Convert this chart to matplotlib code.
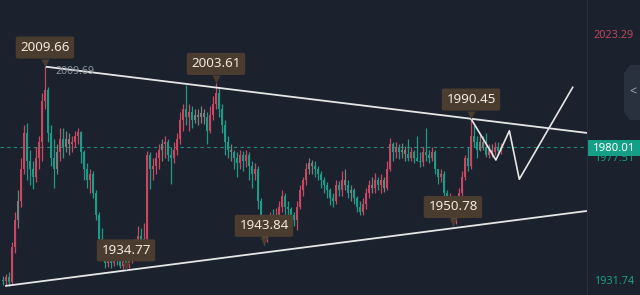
import matplotlib
matplotlib.use("Agg")
import matplotlib.pyplot as plt
from matplotlib.transforms import offset_copy
from matplotlib.patches import Rectangle, Polygon

plt.rcParams['font.family'] = ['Noto Sans', 'DejaVu Sans']

# ---------------- data ----------------
first_open = 1931.0
closes = [1930.5, 1932, 1930, 1943, 1953, 1960, 1972, 1985, 1975, 1972,
          1969, 1976, 1982, 1997, 2001, 1985, 1976, 1972, 1978, 1983,
          1980, 1983, 1981, 1982, 1984, 1985.5, 1978, 1972, 1968, 1970,
          1963, 1955, 1946, 1944, 1937, 1939, 1937, 1939.5, 1938, 1936,
          1938, 1936, 1939, 1941, 1943, 1947, 1944, 1946, 1977, 1972,
          1973, 1976, 1979, 1981, 1982, 1977, 1976, 1979, 1983, 1990,
          1994, 1991, 1993, 1990, 1992, 1991, 1992.5, 1991, 1986, 1992,
          1996, 2000, 1994, 1988, 1982, 1979, 1978, 1976, 1974, 1977,
          1975, 1977, 1973, 1970, 1972, 1960, 1952, 1946, 1950, 1953,
          1951, 1955, 1958, 1962, 1958, 1957, 1955, 1953, 1958, 1964,
          1968, 1972, 1974, 1973, 1972, 1970, 1968, 1966, 1964, 1961,
          1960, 1966, 1964, 1968, 1966, 1963, 1964, 1961, 1958, 1956,
          1959, 1963, 1966, 1965, 1968, 1966, 1968, 1965, 1972, 1981,
          1978, 1980, 1978, 1979, 1977.5, 1976, 1978, 1976, 1975, 1974.5,
          1978, 1977, 1976, 1978, 1972, 1969, 1970, 1963, 1960, 1961,
          1953, 1956, 1963, 1969, 1976, 1973, 1984, 1982, 1979, 1982,
          1980, 1977, 1979, 1978, 1980, 1978.5, 1980.01]
highs = [1932.5, 1933, 1934, 1945, 1956, 1964, 1976, 1988, 1989, 1979,
         1975, 1980, 1984, 2000, 2009.66, 2002, 1988, 1983, 1981, 1987,
         1987, 1986, 1985, 1984, 1986, 1987, 1986, 1979, 1974, 1972,
         1971, 1964, 1956, 1950, 1945, 1941, 1940, 1941, 1941.5, 1939,
         1939.5, 1939, 1940, 1943, 1946, 1951, 1950, 1952, 1978.5, 1978,
         1976, 1978, 1981, 1983, 1984, 1983, 1980, 1982, 1985, 1993,
         1996, 2002.8, 1996, 1995, 1994, 1994, 1995, 1994, 1993, 1995,
         1999, 2003.61, 2002, 1996, 1990, 1984, 1981, 1979, 1978, 1979,
         1978.5, 1979, 1978, 1975, 1974, 1973, 1961, 1954, 1952, 1956,
         1957, 1957.5, 1960, 1964, 1963, 1960, 1958, 1956, 1960, 1966,
         1969, 1974, 1976, 1975.2, 1975, 1973, 1971, 1969, 1967, 1965,
         1963, 1968, 1967.5, 1971, 1972, 1968, 1966, 1965, 1962, 1960,
         1961, 1965, 1968, 1969, 1970.5, 1969, 1970, 1969, 1975, 1983.5,
         1982, 1982, 1981, 1981.5, 1980.5, 1983, 1980, 1979, 1984, 1978,
         1980, 1987, 1979, 1980, 1979, 1972, 1972, 1971, 1964, 1963,
         1961.5, 1958, 1965, 1971, 1977, 1980, 1990.45, 1988, 1984, 1985,
         1984, 1985, 1981, 1981, 1982, 1982, 1981.5]
lows = [1929, 1929.2, 1928.8, 1929.5, 1941, 1950, 1958, 1970, 1968, 1966,
        1964.5, 1967, 1972, 1975, 1994, 1982, 1973, 1965, 1970, 1975,
        1976, 1978, 1977, 1978, 1980, 1981, 1974, 1968, 1965, 1963,
        1961, 1953, 1944.5, 1940, 1935.5, 1935.8, 1935.5, 1936, 1936.5, 1935.2,
        1935, 1934.77, 1935.5, 1937, 1940, 1942, 1943, 1942, 1945, 1964.5,
        1968, 1970, 1972, 1975, 1976, 1975, 1966.5, 1974, 1977, 1981,
        1986, 1988, 1986, 1987, 1989, 1988, 1989, 1988.5, 1981, 1985,
        1990, 1994, 1991, 1985, 1977, 1976, 1975, 1972, 1969, 1972,
        1971, 1972.5, 1968, 1965, 1968, 1957, 1949, 1943.84, 1945, 1948,
        1949, 1950, 1953, 1956, 1955, 1954.5, 1953, 1951, 1949.5, 1957,
        1962, 1966, 1970, 1970, 1969, 1968, 1965, 1963, 1961, 1958.5,
        1958, 1959, 1962, 1962, 1964, 1961, 1960, 1959, 1956, 1955,
        1954.8, 1957, 1961, 1963, 1963, 1964, 1963, 1963.5, 1964, 1971,
        1975, 1976, 1975.5, 1976, 1975, 1975, 1975, 1974, 1974.8, 1972.7,
        1973, 1975, 1974, 1975, 1970, 1966.5, 1967, 1962, 1958, 1956,
        1950.78, 1951.5, 1955, 1962, 1968, 1971, 1972, 1980, 1976, 1978.5,
        1979, 1976.5, 1976, 1976.5, 1977, 1977, 1977.5]
gray_idx = [5, 18, 21, 22, 53, 64, 65, 66, 67, 76, 102, 103, 114, 116,
            123, 127, 133, 134, 159, 160, 163]

# marked highs / lows (candle index, price, label)
marks = [(14, 2009.66, "2009.66"), (71, 2003.61, "2003.61"),
         (156, 1990.45, "1990.45"), (41, 1934.77, "1934.77"),
         (87, 1943.84, "1943.84"), (150, 1950.78, "1950.78")]

# drawn lines
upper_x, upper_y = [14, 194.7], [2009.69, 1985.2]
lower_x, lower_y = [0.7, 194.7], [1928.7, 1956.4]
zig_x = [156, 164.3, 168.8, 172.1, 189.9]
zig_y = [1990.45, 1975.2, 1986.0, 1968.1, 2002.05]
last_price = 1980.01
scale_top, scale_bottom, prev_close = "2023.29", "1931.74", "1977.51"

# ---------------- style ----------------
BG = '#1b212d'
UP, DOWN, FLAT = '#c9475f', '#1d9c85', '#7c7c7c'
BOXC, BOXT = '#4b3c30', '#f1e9df'
W, H = 640, 295
AX_RIGHT = 587

fig = plt.figure(figsize=(W / 100, H / 100), dpi=100, facecolor=BG)
ax = fig.add_axes([0, 0, AX_RIGHT / W, 1])
ax.set_facecolor(BG)
ax.set_axis_off()
ax.set_xlim(-1, 194.67)
ax.set_ylim(1925.36, 2034.29)

n = min(len(closes), len(highs), len(lows))
opens = [first_open] + closes[:n - 1]
for i in range(n):
    o, c = opens[i], closes[i]
    h, l = max(highs[i], o, c), min(lows[i], o, c)
    if i in gray_idx:
        col = FLAT
    elif c >= o:
        col = UP
    else:
        col = DOWN
    ax.vlines(i, l, h, colors=col, lw=0.9, zorder=2)
    bot = min(o, c)
    hgt = max(abs(c - o), 0.3)
    ax.bar(i, hgt, bottom=bot, width=0.65, color=col, lw=0, zorder=2)

# price dashed line
ax.axhline(last_price, color='#1f8c78', lw=0.8, ls=(0, (3, 3)), zorder=1)

# trend lines + projection
ax.plot(upper_x, upper_y, color='#e6e6e6', lw=1.3, zorder=3, solid_capstyle='butt')
ax.plot(lower_x, lower_y, color='#e6e6e6', lw=1.3, zorder=3, solid_capstyle='butt')
ax.plot(zig_x, zig_y, color='#e6e6e6', lw=1.2, zorder=3)

ax.annotate(f"{upper_y[0]:.2f}", (upper_x[0], upper_y[0]), xytext=(7.5, -3.6),
            textcoords='offset points', ha='left', va='center',
            fontsize=7.6, color='#8e949e', zorder=4)

# labels
for xi, p, txt in marks:
    tri = offset_copy(ax.transData, fig=fig, x=0, y=4.0, units='dots')
    ax.plot([xi], [p], marker='v', ms=5.8, color=BOXC, mec='none',
            transform=tri, zorder=5, clip_on=False)
    ax.annotate(txt, (xi, p), xytext=(0, 13.8), textcoords='offset points',
                ha='center', va='center', fontsize=9.6, color=BOXT, zorder=6,
                bbox=dict(boxstyle='round,pad=0.34,rounding_size=0.15',
                          fc=BOXC, ec='none'))

# ---------------- right price panel ----------------
def fx(px):
    return px / W

def fy(py):
    return 1 - py / H

fig.add_artist(plt.Line2D([fx(AX_RIGHT), fx(AX_RIGHT)], [0, 1],
                          color='#283040', lw=0.8))
fig.text(fx(614), fy(35), scale_top, color='#c0455c', fontsize=7.8,
         ha='center', va='center')
fig.text(fx(614), fy(282), scale_bottom, color='#1c9c86', fontsize=7.8,
         ha='center', va='center')
fig.text(fx(614), fy(158.5), prev_close, color='#1c9c86', fontsize=7.8,
         ha='center', va='center')
fig.add_artist(Rectangle((fx(AX_RIGHT + 0.5), fy(156)), fx(W - AX_RIGHT), 16 / H,
                         transform=fig.transFigure, fc='#14a087', ec='none'))
fig.text(fx(614), fy(148.5), f"{last_price:.2f}", color='#ffffff', fontsize=8.2,
         ha='center', va='center')
hx = [640, 630, 624, 624, 630, 640]
hy = [65, 65, 73, 112, 120, 120]
fig.add_artist(Polygon([(fx(a), fy(b)) for a, b in zip(hx, hy)], closed=True,
                       transform=fig.transFigure, fc='#2a313e', ec='none'))
fig.text(fx(633), fy(92), "<", color='#a0a6b0', fontsize=9, ha='center',
         va='center')

fig.savefig('out.png', dpi=100, facecolor=BG)
